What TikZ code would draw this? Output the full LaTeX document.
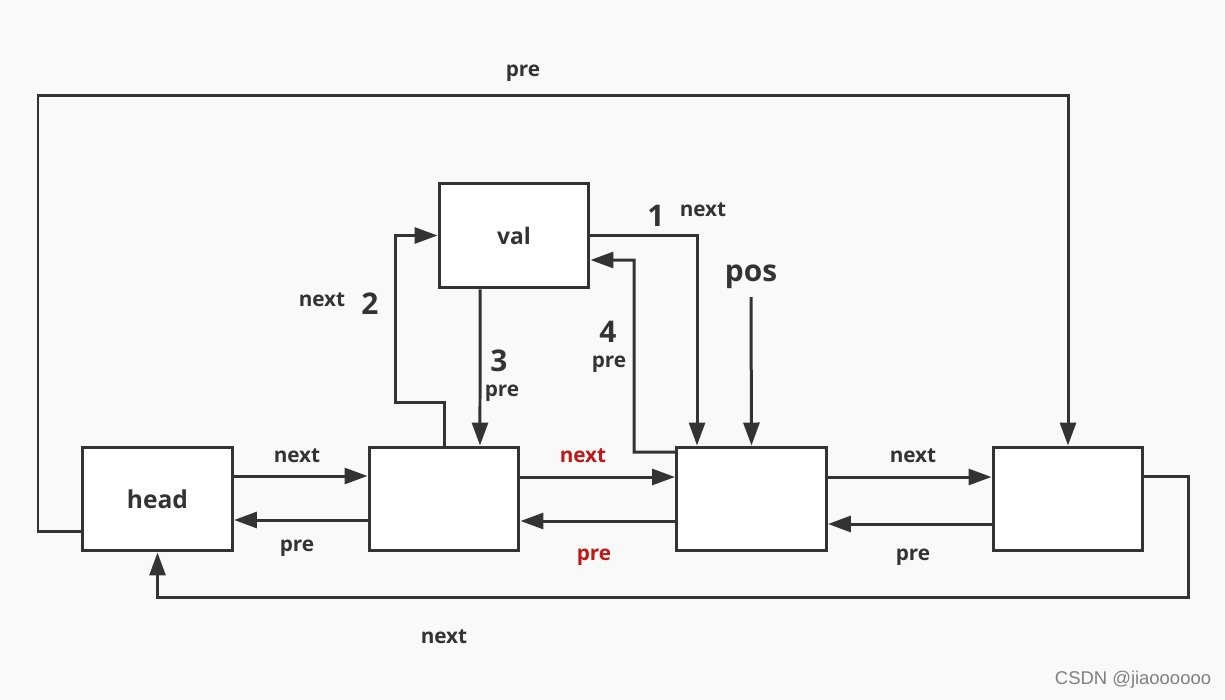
\documentclass[tikz,border=0pt]{standalone}
\usepackage{fontspec}
\setmainfont{Open Sans}
\newfontfamily\markfont{Liberation Sans}
\usetikzlibrary{arrows.meta}

\definecolor{ink}{RGB}{51,51,51}
\definecolor{paper}{RGB}{249,249,249}
\definecolor{hot}{RGB}{192,24,24}

\begin{document}
\begin{tikzpicture}[x=0.02cm,y=-0.02cm]
	\tikzstyle{every node}+=[inner sep=0pt]
	\tikzstyle{box}=[draw=ink,fill=white,line width=0.06cm,minimum width=3cm,minimum height=2.08cm]
	\tikzstyle{link}=[draw=ink,line width=0.06cm,-{Triangle[length=0.46cm,width=0.32cm]}]
	\tikzstyle{lbl}=[text=ink,font=\bfseries\fontsize{11.8}{14}\selectfont]
	\tikzstyle{num}=[text=ink,font=\bfseries\fontsize{17}{20}\selectfont]
	\fill [paper] (0,0) rectangle (1225,700);
	\useasboundingbox (0,0) rectangle (1225,700);
	% list nodes
	\node [box,text=ink,font=\bfseries\fontsize{14}{16}\selectfont] (head) at (157.5,499) {head};
	\node [box] (n1) at (444,499) {};
	\node [box] (n2) at (751.5,499) {};
	\node [box] (n3) at (1068,499) {};
	\node [box,minimum height=2.1cm,text=ink,font=\bfseries\fontsize{13}{15}\selectfont] (val) at (514,235.5) {val};
	% next / pre between neighbours
	\draw [link] ([yshift=0.46cm]head.east) -- ([yshift=0.46cm]n1.west);
	\draw [link] ([yshift=-0.42cm]n1.west) -- ([yshift=-0.42cm]head.east);
	\draw [link] ([yshift=0.44cm]n1.east) -- ([yshift=0.44cm]n2.west);
	\draw [link] ([yshift=-0.44cm]n2.west) -- ([yshift=-0.44cm]n1.east);
	\draw [link] ([yshift=0.44cm]n2.east) -- ([yshift=0.44cm]n3.west);
	\draw [link] ([yshift=-0.5cm]n3.west) -- ([yshift=-0.5cm]n2.east);
	% wrap round
	\draw [link] ([yshift=-0.66cm]head.west) -| (38,95) -| (n3.north);
	\draw [link] ([yshift=0.46cm]n3.east) -| (1188,597) -| (head.south);
	% insert steps
	\draw [link] (val.east) -| ([xshift=-1.09cm]n2.north);
	\draw [link] (n1.north) |- (395,402) |- (val.west);
	\draw [link] ([xshift=-0.68cm]val.south) -- ([xshift=0.72cm]n1.north);
	\draw [link] ([yshift=0.94cm]n2.west) -| (634,260) -- ([yshift=-0.49cm]val.east);
	\node [text=ink,font=\bfseries\fontsize{17}{19}\selectfont] (pos) at (751,277) {pos};
	\draw [link] ([yshift=-0.16cm]pos.south) -- (n2.north);
	% labels
	\node [lbl] (p0) at (523,73) {pre};
	\node [lbl] (x1) at (297,456) {next};
	\node [lbl] (p1) at (297,548) {pre};
	\node [lbl,text=hot] (x2) at (583,456) {next};
	\node [lbl,text=hot] (p2) at (594,557) {pre};
	\node [lbl] (x3) at (913,456) {next};
	\node [lbl] (p3) at (913,557) {pre};
	\node [lbl] (x4) at (444,637) {next};
	\node [num] (k1) at (656,216) {1};
	\node [lbl] (x5) at (703,210) {next};
	\node [num] (k2) at (370,304) {2};
	\node [lbl] (x6) at (322,300) {next};
	\node [num] (k3) at (499,361) {3};
	\node [lbl] (p4) at (502,393) {pre};
	\node [num] (k4) at (608,332) {4};
	\node [lbl] (p5) at (609,364) {pre};
	\node [text=gray,font=\markfont\fontsize{10.5}{12}\selectfont] (mark) at (1133,680) {CSDN @jiaoooooo};
\end{tikzpicture}
\end{document}
